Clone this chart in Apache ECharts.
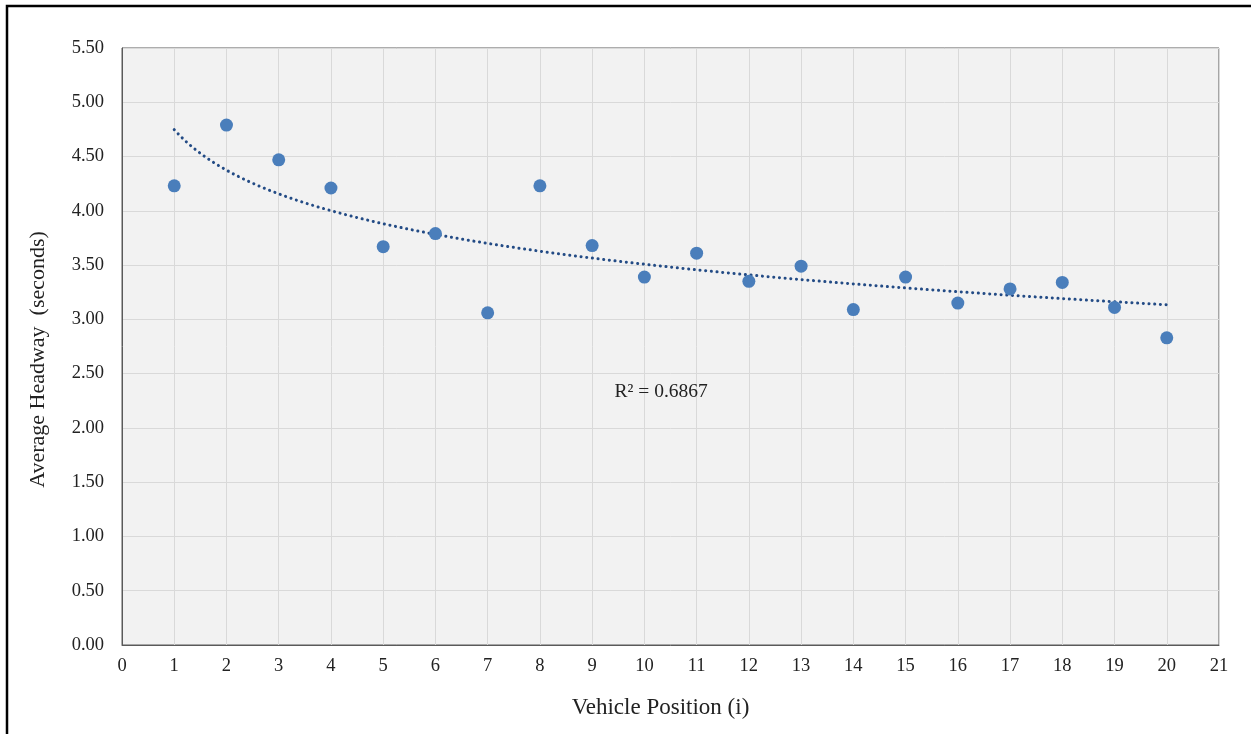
<!DOCTYPE html>
<html>
<head>
<meta charset="utf-8">
<script src="https://cdn.jsdelivr.net/npm/echarts@6/dist/echarts.min.js"></script>
<style>
html,body{margin:0;padding:0;background:#fff;}
#chart{width:1251px;height:734px;}
</style>
</head>
<body>
<div id="chart"></div>
<script>
// Vehicle position (i)
const positions = [1,2,3,4,5,6,7,8,9,10,11,12,13,14,15,16,17,18,19,20];
// Average headway (seconds)
const headways = [4.23,4.79,4.47,4.21,3.67,3.79,3.06,4.23,3.68,3.39,3.61,3.35,3.49,3.09,3.39,3.15,3.28,3.34,3.11,2.83];
const yTicks = [0,0.5,1,1.5,2,2.5,3,3.5,4,4.5,5,5.5];
// R² label as printed on the chart
const r2Label = 'R² = 0.6867';

// Logarithmic least-squares trendline fitted to the data (as in the original)
const n = positions.length;
const lx = positions.map(Math.log);
const mx = lx.reduce((a,b)=>a+b,0)/n;
const my = headways.reduce((a,b)=>a+b,0)/n;
let sxy=0, sxx=0;
for(let i=0;i<n;i++){sxy+=(lx[i]-mx)*(headways[i]-my);sxx+=(lx[i]-mx)**2;}
const slope = sxy/sxx, icpt = my - slope*mx;
const trend = [];
for(let k=0;k<=190;k++){const x=1+k*0.1;trend.push([x, icpt+slope*Math.log(x)]);}

const font = 'Liberation Serif, Times New Roman, serif';
const chart = echarts.init(document.getElementById('chart'));
const border = {type:'rect',shape:{x:7,y:6,width:1400,height:900},style:{fill:'none',stroke:'#000',lineWidth:2.5},z:100};
chart.setOption({
  animation:false,
  textStyle:{fontFamily:font},
  grid:{left:122,top:48,right:32,bottom:89,show:true,backgroundColor:'#f2f2f2',borderColor:'#5a5a5a',borderWidth:1},
  xAxis:{type:'value',min:0,max:21,interval:1,
    name:'Vehicle Position (i)',nameLocation:'middle',nameGap:51,
    nameTextStyle:{fontFamily:font,fontSize:23,color:'#222',padding:[0,20,0,0]},
    axisLine:{show:true,onZero:false,lineStyle:{color:'#5a5a5a'}},axisTick:{show:false},
    axisLabel:{fontFamily:font,fontSize:18.5,color:'#222',margin:12},
    splitLine:{show:true,lineStyle:{color:'#d9d9d9',width:1}}},
  yAxis:{type:'value',min:yTicks[0],max:yTicks[yTicks.length-1],interval:0.5,
    name:'Average Headway  (seconds)',nameLocation:'middle',nameGap:73,
    nameTextStyle:{fontFamily:font,fontSize:22,color:'#222',padding:[0,26,0,0]},
    axisLine:{show:true,lineStyle:{color:'#5a5a5a'}},axisTick:{show:false},
    axisLabel:{fontFamily:font,fontSize:18.5,color:'#222',margin:18,formatter:v=>v.toFixed(2)},
    splitLine:{show:true,lineStyle:{color:'#d9d9d9',width:1}}},
  series:[
    {type:'line',data:trend,showSymbol:false,symbol:'none',smooth:false,
     lineStyle:{color:'#234b85',width:3,type:[0.1,5.6],cap:'round'},z:2},
    {type:'scatter',data:positions.map((p,i)=>[p,headways[i]]),symbolSize:13,
     itemStyle:{color:'#4a7ebb',opacity:1},z:3}
  ],
  graphic:[border]
});
const pos = chart.convertToPixel({gridIndex:0},[9.43,2.33]);
chart.setOption({graphic:[
  border,
  {type:'text',x:pos[0],y:pos[1],style:{text:r2Label,fontFamily:font,fontSize:19.5,fill:'#222',verticalAlign:'middle'},z:100}
]});
</script>
</body>
</html>
